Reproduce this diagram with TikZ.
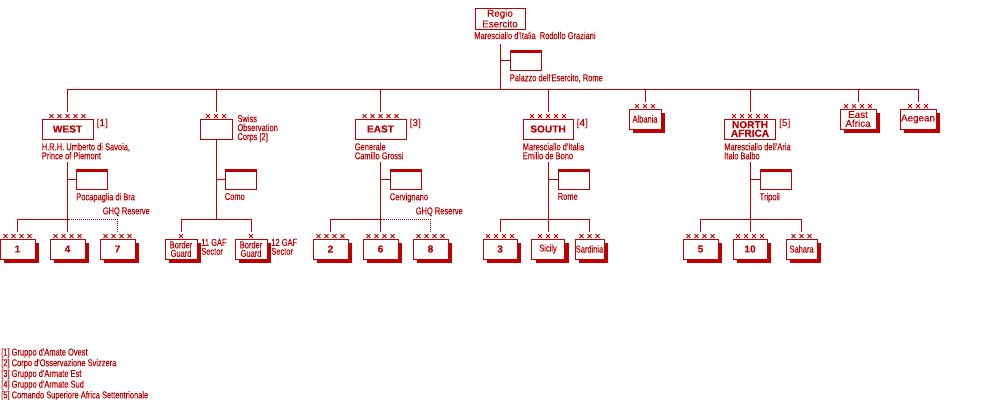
\documentclass[tikz,border=0pt]{standalone}
\usepackage{fontspec}
\usetikzlibrary{positioning,shadows}
\newfontfamily\pixfont[FakeStretch=0.75,FakeBold=0.35]{Liberation Sans}
\newfontfamily\widefont[FakeBold=0.2]{Liberation Sans}
\definecolor{rdred}{RGB}{192,0,0}
\newcommand{\xs}{\kern1.6pt}
\newcommand{\xone}{×}
\newcommand{\xthree}{×\xs×\xs×}
\newcommand{\xfour}{×\xs×\xs×\xs×}
\newcommand{\xfive}{×\xs×\xs×\xs×\xs×}
\tikzset{
  unit/.style={draw=rdred,line width=0.7pt,fill=white,inner sep=0pt,align=center,minimum height=0.5cm},
  shadowed/.style={drop shadow={shadow xshift=0.1cm,shadow yshift=-0.1cm,fill=rdred,opacity=1}},
  hqbox/.style={draw=rdred,line width=0.7pt,fill=white,inner sep=0pt,minimum width=0.775cm,minimum height=0.5cm,
    path picture={\fill[rdred] (path picture bounding box.north west) rectangle ([yshift=-0.085cm]path picture bounding box.north east);}},
  echx/.style={font=\widefont\fontsize{7}{7}\selectfont,inner sep=0pt,outer sep=1pt,above=-1.6pt},
  lbl/.style={font=\pixfont\fontsize{7.1}{6.4}\selectfont,inner sep=0pt,align=left},
  reflbl/.style={font=\widefont\fontsize{7.2}{7}\selectfont,inner sep=0pt},
  boldlbl/.style={font=\widefont\bfseries\fontsize{7.2}{6.1}\selectfont},
  unitlbl/.style={font=\pixfont\fontsize{7.1}{6}\selectfont},
  widelbl/.style={font=\widefont\fontsize{7}{6.3}\selectfont},
  conn/.style={draw=rdred,line width=0.7pt},
  reserve/.style={draw=rdred,line width=0.7pt,dash pattern=on 0.71pt off 0.71pt},
}
\begin{document}
\begin{tikzpicture}[x=0.025cm,y=-0.025cm,every node/.style={text=rdred}]
\useasboundingbox (0,0) rectangle (1000,400);
% supreme command
\node[unit,widelbl,minimum width=1.25cm,minimum height=0.525cm] (regio) at (500,18.5) {Regio\\Esercito};
\node[lbl,anchor=west] (regioCmd) at (474,35.5) {Maresciallo d'Italia\ \ Rodolfo Graziani};
\node[hqbox] (regioHQ) at (525.5,60) {};
\node[lbl,below right=2.3pt and 0pt of regioHQ.south west] (regioHQLbl) {Palazzo dell'Esercito, Rome};
\coordinate (bar) at (0,89);
% army groups and commands
\node[unit,boldlbl,minimum width=1.275cm] (west) at (67.5,129) {WEST};
\node[unit,minimum width=0.8cm] (swiss) at (216,129) {};
\node[unit,boldlbl,minimum width=1.275cm] (east) at (380.5,129) {EAST};
\node[unit,boldlbl,minimum width=1.25cm] (south) at (548,129) {SOUTH};
\node[unit,shadowed,unitlbl,minimum width=0.8cm] (albania) at (645,119) {Albania};
\node[unit,boldlbl,minimum width=1.275cm] (nafr) at (750,129) {NORTH\\AFRICA};
\node[unit,shadowed,widelbl,minimum width=0.9cm] (eafr) at (858,119) {East\\Africa};
\node[unit,shadowed,widelbl,minimum width=0.9cm] (aegean) at (918,119) {Aegean};
\node[echx] (westX) at (west.north) {\xfive};
\node[echx] (swissX) at (swiss.north) {\xthree};
\node[echx] (eastX) at (east.north) {\xfive};
\node[echx] (southX) at (south.north) {\xfive};
\node[echx] (albaniaX) at (albania.north) {\xthree};
\node[echx] (nafrX) at (nafr.north) {\xfive};
\node[echx] (eafrX) at (eafr.north) {\xfour};
\node[echx] (aegeanX) at (aegean.north) {\xthree};
\node[reflbl,anchor=north west] (westRef) at ([xshift=2pt]west.north east) {[1]};
\node[reflbl,anchor=north west] (eastRef) at ([xshift=2pt]east.north east) {[3]};
\node[reflbl,anchor=north west] (southRef) at ([xshift=2pt]south.north east) {[4]};
\node[reflbl,anchor=north west] (nafrRef) at ([xshift=2pt]nafr.north east) {[5]};
\node[lbl,anchor=north west] (swissLbl) at ([xshift=3.3pt,yshift=2.8pt]swiss.north east) {Swiss\\Observation\\Corps [2]};
\node[lbl,below right=2.3pt and 0pt of west.south west] (westCmd) {H.R.H. Umberto di Savoia,\\Prince of Piemont};
\node[lbl,below right=2.3pt and 0pt of east.south west] (eastCmd) {Generale\\Camillo Grossi};
\node[lbl,below right=2.3pt and 0pt of south.south west] (southCmd) {Maresciallo d'Italia\\Emilio de Bono};
\node[lbl,below right=2.3pt and 0pt of nafr.south west] (nafrCmd) {Maresciallo dell'Aria\\Italo Balbo};
% headquarters
\node[hqbox] (westHQ) at (92,179) {};
\node[hqbox] (swissHQ) at (240.5,179) {};
\node[hqbox] (eastHQ) at (405.5,179) {};
\node[hqbox] (southHQ) at (573.5,179) {};
\node[hqbox] (nafrHQ) at (775.5,179) {};
\node[lbl,below right=2.3pt and 0pt of westHQ.south west] (westHQLbl) {Pocapaglia di Bra};
\node[lbl,below right=2.3pt and 0pt of swissHQ.south west] (swissHQLbl) {Como};
\node[lbl,below right=2.3pt and 0pt of eastHQ.south west] (eastHQLbl) {Cervignano};
\node[lbl,below right=2.3pt and 0pt of southHQ.south west] (southHQLbl) {Rome};
\node[lbl,below right=2.3pt and 0pt of nafrHQ.south west] (nafrHQLbl) {Tripoli};
% armies and sectors
\coordinate (subBar) at (0,219);
\node[unit,shadowed,boldlbl,minimum width=0.875cm] (w1) at (17.5,249) {1};
\node[unit,shadowed,boldlbl,minimum width=0.875cm] (w4) at (67.5,249) {4};
\node[unit,shadowed,boldlbl,minimum width=0.875cm] (w7) at (117.5,249) {7};
\node[unit,shadowed,unitlbl,minimum width=0.8cm] (bg11) at (181,249) {Border\\Guard};
\node[unit,shadowed,unitlbl,minimum width=0.8cm] (bg12) at (251,249) {Border\\Guard};
\node[unit,shadowed,boldlbl,minimum width=0.875cm] (e2) at (330.5,249) {2};
\node[unit,shadowed,boldlbl,minimum width=0.875cm] (e6) at (380.5,249) {6};
\node[unit,shadowed,boldlbl,minimum width=0.875cm] (e8) at (430.5,249) {8};
\node[unit,shadowed,boldlbl,minimum width=0.85cm] (s3) at (500,249) {3};
\node[unit,shadowed,unitlbl,minimum width=0.825cm] (sicily) at (548,249) {Sicily};
\node[unit,shadowed,unitlbl,minimum width=0.725cm] (sardinia) at (589.5,249) {Sardinia};
\node[unit,shadowed,boldlbl,minimum width=0.875cm] (n5) at (700.5,249) {5};
\node[unit,shadowed,boldlbl,minimum width=0.85cm] (n10) at (750,249) {10};
\node[unit,shadowed,unitlbl,minimum width=0.775cm] (sahara) at (801.5,249) {Sahara};
\node[echx] (w1X) at (w1.north) {\xfour};
\node[echx] (w4X) at (w4.north) {\xfour};
\node[echx] (w7X) at (w7.north) {\xfour};
\node[echx] (bg11X) at (bg11.north) {\xone};
\node[echx] (bg12X) at (bg12.north) {\xone};
\node[echx] (e2X) at (e2.north) {\xfour};
\node[echx] (e6X) at (e6.north) {\xfour};
\node[echx] (e8X) at (e8.north) {\xfour};
\node[echx] (s3X) at (s3.north) {\xfour};
\node[echx] (sicilyX) at (sicily.north) {\xthree};
\node[echx] (sardiniaX) at (sardinia.north) {\xthree};
\node[echx] (n5X) at (n5.north) {\xfour};
\node[echx] (n10X) at (n10.north) {\xfour};
\node[echx] (saharaX) at (sahara.north) {\xthree};
\node[lbl,anchor=west] (bg11Lbl) at ([xshift=2.5pt,yshift=1.5pt]bg11.east) {11 GAF\\Sector};
\node[lbl,anchor=west] (bg12Lbl) at ([xshift=2.5pt,yshift=1.5pt]bg12.east) {12 GAF\\Sector};
\node[lbl,anchor=south west] (westGHQ) at ([xshift=-10.7pt,yshift=1.8pt]w7X.north |- subBar) {GHQ Reserve};
\node[lbl,anchor=south west] (eastGHQ) at ([xshift=-10.7pt,yshift=1.8pt]e8X.north |- subBar) {GHQ Reserve};
% connectors
\draw[conn] ([yshift=-3pt]regioCmd.south -| regio) -- (regio |- bar);
\draw[conn] (regioHQ.west) -- (regioHQ.west -| regio);
\draw[conn] (westX.north |- bar) -- (aegeanX.north |- bar);
\foreach \n in {westX,swissX,eastX,southX,albaniaX,nafrX,eafrX,aegeanX}
  \draw[conn] (\n.north |- bar) -- (\n.north);
\draw[conn] ([yshift=-2pt]westCmd.south -| west) -- (west |- subBar);
\draw[conn] (swiss.south) -- (swiss |- subBar);
\draw[conn] ([yshift=-2pt]eastCmd.south -| east) -- (east |- subBar);
\draw[conn] ([yshift=-2pt]southCmd.south -| south) -- (south |- subBar);
\draw[conn] ([yshift=-2pt]nafrCmd.south -| nafr) -- (nafr |- subBar);
\foreach \h/\p in {westHQ/west,swissHQ/swiss,eastHQ/east,southHQ/south,nafrHQ/nafr}
  \draw[conn] (\h.west) -- (\h.west -| \p);
\draw[conn] (w1X.north) -- (w1X.north |- subBar) -- (w4X.north |- subBar) -- (w4X.north);
\draw[reserve] (w4X.north |- subBar) -- (w7X.north |- subBar) -- (w7X.north);
\draw[conn] (bg11X.north) -- (bg11X.north |- subBar) -- (bg12X.north |- subBar) -- (bg12X.north);
\draw[conn] (e2X.north) -- (e2X.north |- subBar) -- (e6X.north |- subBar) -- (e6X.north);
\draw[reserve] (e6X.north |- subBar) -- (e8X.north |- subBar) -- (e8X.north);
\draw[conn] (s3X.north) -- (s3X.north |- subBar) -- (sardiniaX.north |- subBar) -- (sardiniaX.north);
\draw[conn] (sicilyX.north |- subBar) -- (sicilyX.north);
\draw[conn] (n5X.north) -- (n5X.north |- subBar) -- (saharaX.north |- subBar) -- (saharaX.north);
\draw[conn] (n10X.north |- subBar) -- (n10X.north);
% notes
\node[lbl,anchor=north west] (legend) at (1,348) {[1] Gruppo d'Amate Ovest\\{}[2] Corpo d'Osservazione Svizzera\\{}[3] Gruppo d'Armate Est\\{}[4] Gruppo d'Armate Sud\\{}[5] Comando Superiore Africa Settentrionale};
\end{tikzpicture}
\end{document}
